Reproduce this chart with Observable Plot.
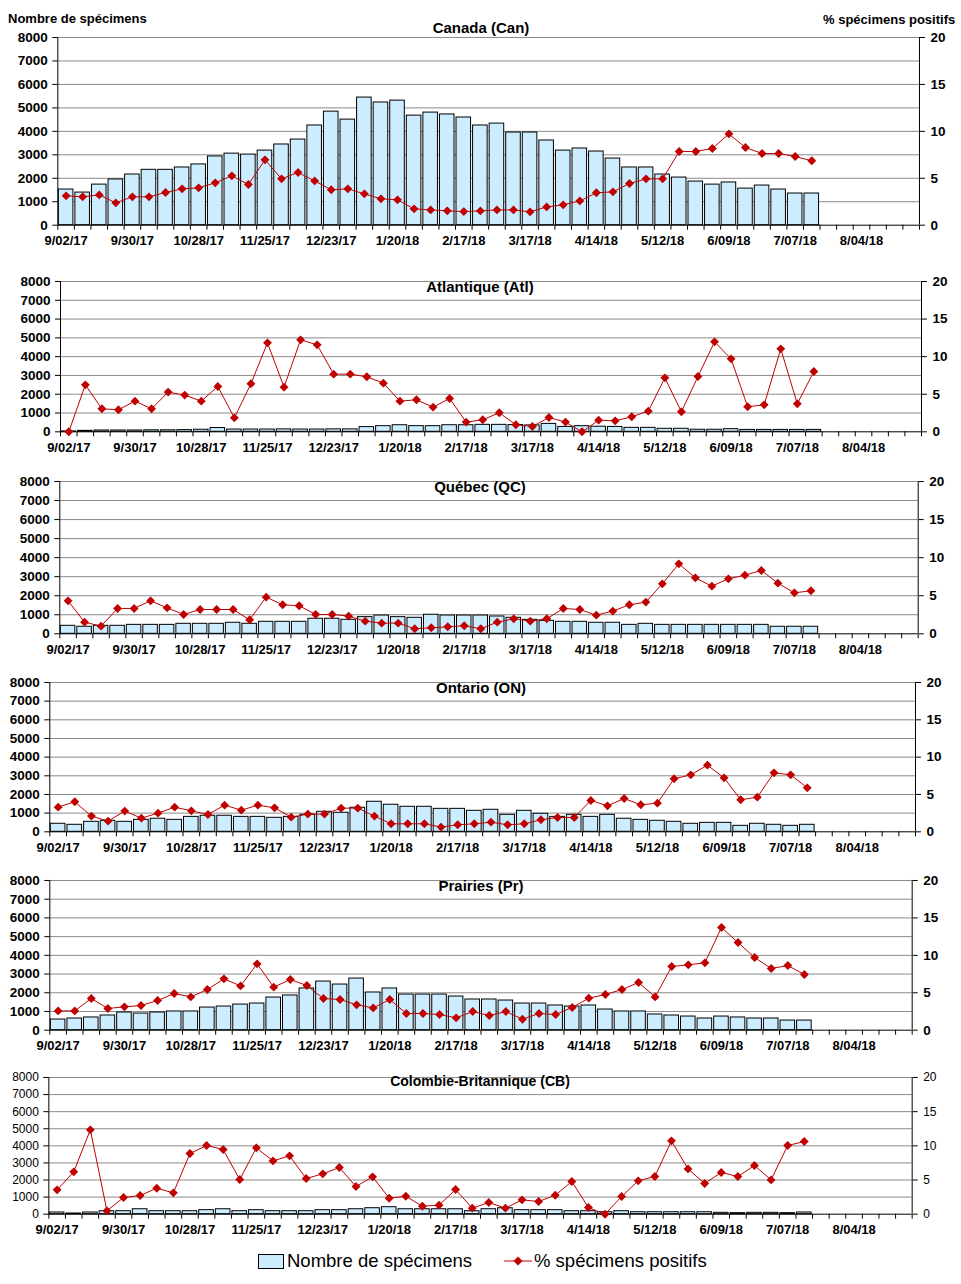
<!DOCTYPE html>
<html>
<head>
<meta charset="utf-8">
<script src="https://cdn.jsdelivr.net/npm/d3@7"></script>
<script src="https://cdn.jsdelivr.net/npm/@observablehq/plot@0.6"></script>
<style>
  html, body { margin: 0; padding: 0; background: #fff; }
  body { font-family: "Liberation Sans", Arial, sans-serif; color: #000; }
  #root { position: relative; width: 961px; height: 1284px; overflow: hidden; }
  .panel { position: absolute; left: 0; }
  .title { position: absolute; transform: translate(-50%, -50%); font-weight: bold; font-size: 15px; white-space: nowrap; }
  .lab { position: absolute; transform: translateY(-50%); font-weight: bold; font-size: 13px; white-space: nowrap; }
  .leg { position: absolute; font-size: 18.5px; white-space: nowrap; transform: translateY(-50%); }
</style>
</head>
<body>
<div id="root"></div>
<script>
// ---------- data ----------
const tickLabels = ["9/02/17","9/30/17","10/28/17","11/25/17","12/23/17","1/20/18","2/17/18","3/17/18","4/14/18","5/12/18","6/09/18","7/07/18","8/04/18"];

const canSpecimens = [1520,1390,1730,1950,2160,2360,2360,2460,2590,2930,3050,3010,3180,3440,3650,4250,4840,4500,5440,5230,5310,4670,4800,4720,4590,4250,4330,3950,3950,3610,3180,3270,3140,2840,2460,2460,2160,2030,1860,1730,1820,1560,1690,1520,1350,1350];
const canPositive = [3.13,3.02,3.23,2.38,3.02,3.02,3.48,3.87,3.98,4.51,5.26,4.33,6.96,4.94,5.61,4.72,3.77,3.87,3.34,2.81,2.70,1.74,1.63,1.53,1.45,1.52,1.63,1.63,1.42,1.95,2.17,2.59,3.45,3.55,4.44,4.94,4.94,7.85,7.85,8.17,9.73,8.28,7.64,7.64,7.32,6.86];

const atlSpecimens = [20,50,70,70,70,80,80,90,110,200,120,120,120,130,120,120,130,130,250,300,350,300,300,350,350,370,370,360,340,420,260,300,270,260,210,210,160,160,110,110,140,100,100,100,100,100];
const atlPositive = [0,6.25,3.06,2.93,4.08,3.06,5.28,4.88,4.08,6.03,1.86,6.39,11.84,5.94,12.24,11.57,7.67,7.67,7.32,6.47,4.08,4.26,3.28,4.43,1.29,1.6,2.53,0.93,0.71,1.91,1.29,0,1.55,1.46,2.0,2.75,7.18,2.66,7.36,11.97,9.71,3.33,3.59,11.04,3.73,8.03];

const qcSpecimens = [420,370,420,420,470,470,470,525,525,525,580,525,630,630,630,790,790,735,875,960,875,840,1000,960,960,960,910,840,735,680,630,630,580,580,470,525,470,470,470,470,470,470,470,370,370,370];
const qcPositive = [4.33,1.53,1.0,3.33,3.33,4.33,3.41,2.54,3.19,3.19,3.19,1.84,4.81,3.81,3.68,2.54,2.54,2.32,1.66,1.40,1.40,0.66,0.79,0.92,1.05,0.66,1.53,1.97,1.66,1.97,3.33,3.19,2.45,2.98,3.81,4.16,6.56,9.19,7.35,6.26,7.22,7.70,8.32,6.65,5.38,5.65];

const onSpecimens = [430,375,535,590,535,640,700,640,800,860,860,800,800,750,800,910,1070,1020,1290,1610,1450,1340,1340,1230,1230,1125,1180,910,1125,965,800,910,800,910,700,640,590,535,430,480,480,320,430,375,320,375];
const onPositive = [3.30,4.02,2.10,1.43,2.77,1.83,2.50,3.30,2.81,2.32,3.57,2.90,3.57,3.21,1.96,2.37,2.37,3.17,3.17,2.10,1.07,1.07,1.07,0.63,0.94,1.07,1.29,0.94,1.07,1.61,1.92,1.92,4.20,3.48,4.46,3.62,3.84,7.10,7.63,8.93,7.23,4.29,4.64,7.90,7.63,5.89];

const prSpecimens = [570,625,680,785,945,890,945,1000,1000,1210,1265,1370,1425,1745,1855,2230,2600,2440,2760,2015,2230,1905,1905,1905,1800,1640,1640,1585,1425,1425,1320,1265,1320,1105,1000,1000,840,785,730,625,730,680,625,625,515,515];
const prPositive = [2.58,2.58,4.23,2.90,3.12,3.30,3.96,4.90,4.45,5.43,6.86,5.92,8.86,5.75,6.77,5.97,4.23,4.10,3.39,2.98,4.10,2.23,2.23,2.09,1.65,2.49,1.96,2.49,1.47,2.23,2.09,3.03,4.28,4.77,5.43,6.37,4.45,8.51,8.73,9.00,13.72,11.71,9.71,8.24,8.64,7.44];

const cbSpecimens = [100,40,100,175,175,290,175,175,175,235,290,175,235,175,175,175,235,235,290,350,410,290,290,290,290,175,290,350,235,235,235,175,175,115,175,115,115,115,115,115,80,60,80,80,60,100];
const cbPositive = [3.56,6.20,12.34,0.49,2.44,2.73,3.80,3.12,8.88,10.05,9.46,5.07,9.71,7.80,8.54,5.22,5.90,6.83,4.05,5.46,2.34,2.63,1.17,1.32,3.61,0.88,1.71,0.88,2.10,1.85,2.78,4.78,0.98,0,2.59,4.88,5.51,10.73,6.63,4.49,6.10,5.51,7.12,5.02,10.05,10.63];

const leftTicks = [0,1000,2000,3000,4000,5000,6000,7000,8000];
const rightTicks = [0,5,10,15,20];
const nWeeks = 52;

// ---------- drawing ----------
const FONT = '"Liberation Sans", Arial, sans-serif';
const RED = "#C00000";
const BLUE = "#CCECFF";
const RATIO = 8000 / 20; // left max / right max

const panels = [
  {title: "Canada (Can)", spec: canSpecimens, pos: canPositive, left: 57.3, right: 919, top: 37.3, bottom: 225, tx: 481, ty: 27},
  {title: "Atlantique (Atl)", spec: atlSpecimens, pos: atlPositive, left: 60, right: 921, top: 281, bottom: 431.3, tx: 480, ty: 286},
  {title: "Québec (QC)", spec: qcSpecimens, pos: qcPositive, left: 59.3, right: 917.7, top: 481, bottom: 633.3, tx: 480, ty: 486},
  {title: "Ontario (ON)", spec: onSpecimens, pos: onPositive, left: 49.3, right: 915, top: 682, bottom: 831.3, tx: 481, ty: 687},
  {title: "Prairies (Pr)", spec: prSpecimens, pos: prPositive, left: 49.3, right: 911.7, top: 880.3, bottom: 1030, tx: 481, ty: 885},
  {title: "Colombie-Britannique (CB)", spec: cbSpecimens, pos: cbPositive, left: 48.3, right: 911.7, top: 1077.3, bottom: 1214, tx: 480, ty: 1081, light: true, tsize: 14}
];

const root = document.getElementById("root");
const weekBounds = d3.range(nWeeks + 1);
const labelPos = tickLabels.map((_, k) => k * 4 + 0.5);

for (const p of panels) {
  const mt = 22, mb = 30;
  const h = p.bottom - p.top;
  const yw = p.light ? "normal" : "bold";
  const ys = p.light ? 12 : 13.5;
  const svg = Plot.plot({
    width: 961,
    height: h + mt + mb,
    marginTop: mt,
    marginBottom: mb,
    marginLeft: p.left,
    marginRight: 961 - p.right,
    x: {type: "linear", domain: [0, nWeeks]},
    y: {type: "linear", domain: [0, 8000]},
    style: {fontFamily: FONT, fontSize: "13px", fontWeight: "bold", color: "#000", background: "transparent", overflow: "visible"},
    marks: [
      Plot.ruleY(leftTicks.slice(1), {stroke: "#8a8a8a", strokeWidth: 1}),
      Plot.rect(p.spec, {x1: (d, i) => i, x2: (d, i) => i + 1, y1: 0, y2: d => d, insetLeft: 1, insetRight: 1, fill: BLUE, stroke: "#000", strokeWidth: 1}),
      Plot.ruleX([0, nWeeks], {stroke: "#000", strokeWidth: 1}),
      Plot.ruleY([0], {stroke: "#000", strokeWidth: 1}),
      Plot.axisY({anchor: "left", ticks: leftTicks, tickSize: 5, tickPadding: 5, tickFormat: d => String(d), fontSize: ys, fontWeight: yw, strokeOpacity: 1}),
      Plot.axisY({anchor: "right", ticks: rightTicks.map(v => v * RATIO), tickSize: 5, tickPadding: 6, tickFormat: d => String(d / RATIO), fontSize: ys, fontWeight: yw, strokeOpacity: 1}),
      Plot.axisX({ticks: weekBounds, tickSize: 5, tickFormat: () => "", strokeOpacity: 1}),
      Plot.axisX({ticks: labelPos, tickSize: 0, tickPadding: 11, tickFormat: d => tickLabels[Math.round((d - 0.5) / 4)], fontSize: 13, fontWeight: "bold"}),
      Plot.line(p.pos, {x: (d, i) => i + 0.5, y: d => d * RATIO, stroke: RED, strokeWidth: 1}),
      Plot.dot(p.pos, {x: (d, i) => i + 0.5, y: d => d * RATIO, symbol: "diamond2", r: 4, fill: RED, stroke: "none"})
    ]
  });
  svg.classList.add("panel");
  svg.style.top = (p.top - mt) + "px";
  root.appendChild(svg);

  const t = document.createElement("div");
  t.className = "title";
  t.textContent = p.title;
  t.style.left = p.tx + "px";
  t.style.top = p.ty + "px";
  if (p.tsize) t.style.fontSize = p.tsize + "px";
  root.appendChild(t);
}

// axis titles
const l1 = document.createElement("div");
l1.className = "lab"; l1.textContent = "Nombre de spécimens";
l1.style.left = "8px"; l1.style.top = "18px";
root.appendChild(l1);
const l2 = document.createElement("div");
l2.className = "lab"; l2.textContent = "% spécimens positifs";
l2.style.left = "823px"; l2.style.top = "19px";
root.appendChild(l2);

// legend
const box = document.createElement("div");
Object.assign(box.style, {position: "absolute", left: "258px", top: "1254px", width: "24px", height: "13px", background: BLUE, border: "1px solid #000"});
root.appendChild(box);
const lt1 = document.createElement("div");
lt1.className = "leg"; lt1.textContent = "Nombre de spécimens";
lt1.style.left = "287px"; lt1.style.top = "1261px";
root.appendChild(lt1);

const ns = "http://www.w3.org/2000/svg";
const ls = document.createElementNS(ns, "svg");
ls.setAttribute("width", "30"); ls.setAttribute("height", "14");
Object.assign(ls.style, {position: "absolute", left: "503px", top: "1254px"});
const ln = document.createElementNS(ns, "line");
ln.setAttribute("x1", "1"); ln.setAttribute("x2", "29"); ln.setAttribute("y1", "7"); ln.setAttribute("y2", "7");
ln.setAttribute("stroke", RED); ln.setAttribute("stroke-width", "1");
ls.appendChild(ln);
const dm = document.createElementNS(ns, "path");
dm.setAttribute("d", "M15,2.5L19.5,7L15,11.5L10.5,7Z");
dm.setAttribute("fill", RED);
ls.appendChild(dm);
root.appendChild(ls);
const lt2 = document.createElement("div");
lt2.className = "leg"; lt2.textContent = "% spécimens positifs";
lt2.style.left = "534px"; lt2.style.top = "1261px";
root.appendChild(lt2);
</script>
</body>
</html>
